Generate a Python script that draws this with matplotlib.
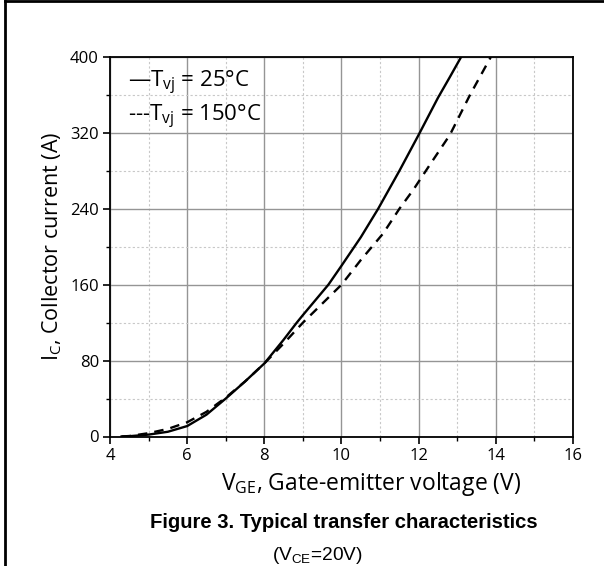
import numpy as np
import matplotlib.pyplot as plt
from matplotlib.lines import Line2D
from matplotlib.ticker import MultipleLocator

plt.rcParams['font.family'] = ['Open Sans', 'DejaVu Sans']
plt.rcParams['mathtext.fontset'] = 'custom'
plt.rcParams['mathtext.rm'] = 'Open Sans'

# curves
vge_25 = [4.3, 4.5, 5.0, 5.5, 6.0, 6.5, 7.0, 7.5, 8.0, 8.5, 8.84, 9.0, 9.66, 10.0,
          10.5, 10.95, 11.5, 12.0, 12.5, 12.81, 13.1]
ic_25 = [0, 0.3, 2, 5, 11, 23, 40, 58, 77, 102, 120, 128, 160, 180,
         210, 240, 280, 318, 357, 379, 400]
vge_150 = [4.3, 4.5, 5.0, 5.5, 6.0, 6.5, 7.0, 7.5, 8.0, 8.5, 9.0, 9.5, 10.0, 10.5,
           11.08, 11.5, 11.86, 12.3, 12.81, 13.33, 13.87]
ic_150 = [0, 0.5, 3.5, 8, 15, 26, 41, 58, 77, 98, 120, 140, 160, 186,
          214, 240, 260, 287, 318, 360, 400]

fig = plt.figure(figsize=(6.04, 5.66), dpi=100)
ax = fig.add_axes([110/604, 1-436.5/566, 463/604, 379.5/566])

ax.plot(vge_25, ic_25, color='black', lw=1.7, label='25')
ax.plot(vge_150, ic_150, color='black', lw=1.7, ls=(0, (4, 3)), label='150')

ax.set_xlim(4, 16)
ax.set_ylim(0, 400)
ax.xaxis.set_major_locator(MultipleLocator(2))
ax.xaxis.set_minor_locator(MultipleLocator(1))
ax.yaxis.set_major_locator(MultipleLocator(80))
ax.yaxis.set_minor_locator(MultipleLocator(40))
ax.grid(which='major', color='#959595', lw=1.0, ls='-')
ax.grid(which='minor', color='#c8c8c8', lw=0.8, ls=(0, (2, 2)))
ax.set_axisbelow(True)
ax.tick_params(which='major', direction='out', length=5, width=1.2, labelsize=12, pad=3)
ax.tick_params(which='minor', direction='out', length=3, width=1.0)
for s in ax.spines.values():
    s.set_linewidth(1.3)

ax.text(0.039, 0.921, '—T$_{\\mathregular{vj}}$ = 25°C', transform=ax.transAxes,
        fontsize=16, va='baseline', ha='left')
ax.text(0.039, 0.829, '---T$_{\\mathregular{vj}}$ = 150°C', transform=ax.transAxes,
        fontsize=16, va='baseline', ha='left')

ax.set_xlabel('V$_{\\mathregular{GE}}$, Gate-emitter voltage (V)', fontsize=16.5, labelpad=3)
ax.xaxis.set_label_coords(0.564, -0.087)
ax.set_ylabel('I$_{\\mathregular{C}}$, Collector current (A)', fontsize=15.5, labelpad=4)

fig.text(343.5/604, 1-522/566, 'Figure 3. Typical transfer characteristics',
         family='Liberation Sans', weight='bold', fontsize=14.6, ha='center', va='center')
fig.text(317/604, 1-556/566, '(V$_{\\mathregular{CE}}$=20V)', family='Liberation Sans',
         fontsize=13.8, ha='center', va='center', math_fontfamily='custom')

# page frame (left and top edges visible)
fig.add_artist(Line2D([5/604, 5/604], [0, 1 - 1/566], color='black', lw=2,
                      transform=fig.transFigure))
fig.add_artist(Line2D([5/604, 1], [1 - 1/566, 1 - 1/566], color='black', lw=2,
                      transform=fig.transFigure))

fig.savefig('out.png', dpi=100)
